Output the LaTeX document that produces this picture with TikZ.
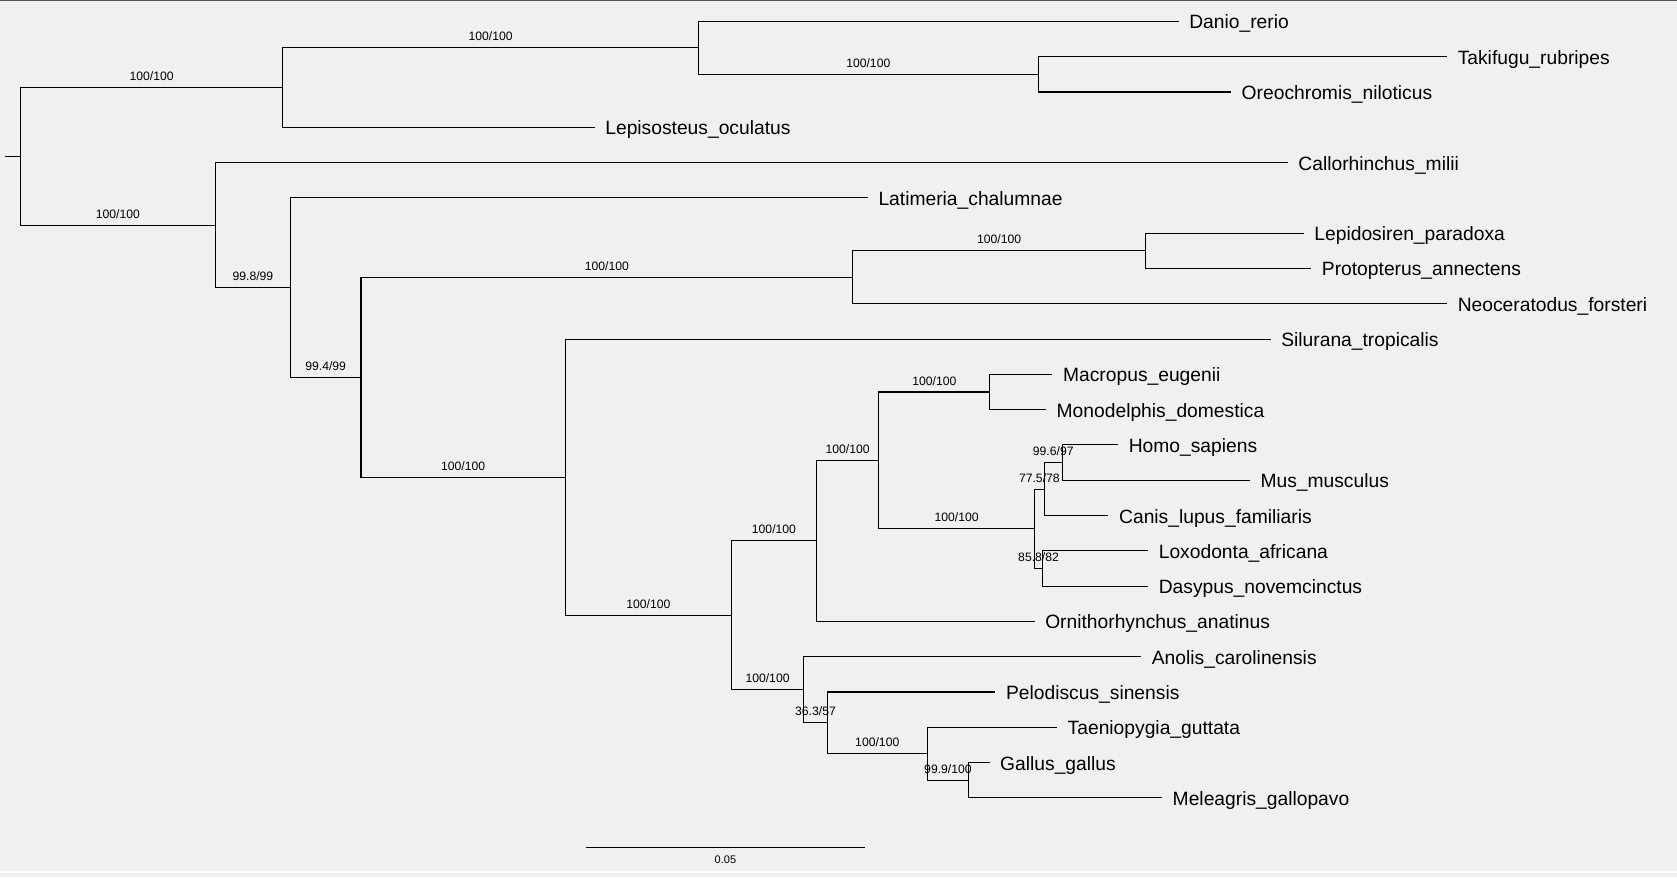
\documentclass[tikz,border=0pt]{standalone}
\usepackage{fontspec}
\setmainfont{Liberation Sans}
\definecolor{panel}{HTML}{F0F0F0}
\definecolor{frame}{HTML}{555555}

\begin{document}
\begin{tikzpicture}[x=0.5pt,y=-0.5pt,
  branch/.style={line width=0.5pt},
  taxon/.style={anchor=west,inner xsep=4.8pt,inner ysep=0pt,text height=9pt,text depth=2pt,font=\fontsize{9}{10}\selectfont},
  boot/.style={pos=0.75,above,inner xsep=0pt,inner ysep=3pt,text depth=0pt,font=\fontsize{5.7}{6}\selectfont},
  barlabel/.style={below,inner xsep=0pt,inner ysep=3.95pt,text height=3.7pt,text depth=0pt,font=\fontsize{5.15}{6}\selectfont}]

    % panel
    \fill[panel] (0,0) rectangle (1568,820);
    \fill[frame] (0,0) rectangle (1568,1);
    \fill[white] (0,814.8) rectangle (1568,815.8);
    \useasboundingbox (0,0) rectangle (1568,820);

    % taxa
    \node[taxon] (danio) at (1102,20) {Danio\_rerio};
    \node[taxon] (takifugu) at (1353,53) {Takifugu\_rubripes};
    \node[taxon] (oreo) at (1151,86) {Oreochromis\_niloticus};
    \node[taxon] (lepis) at (556,119) {Lepisosteus\_oculatus};
    \node[taxon] (callo) at (1204,152) {Callorhinchus\_milii};
    \node[taxon] (latimeria) at (811.4,185) {Latimeria\_chalumnae};
    \node[taxon] (lepidosiren) at (1219,218) {Lepidosiren\_paradoxa};
    \node[taxon] (protopterus) at (1226,251) {Protopterus\_annectens};
    \node[taxon] (neocerat) at (1353,284) {Neoceratodus\_forsteri};
    \node[taxon] (silurana) at (1188,317) {Silurana\_tropicalis};
    \node[taxon] (macropus) at (984,350) {Macropus\_eugenii};
    \node[taxon] (monodelphis) at (978,383) {Monodelphis\_domestica};
    \node[taxon] (homo) at (1045.4,416) {Homo\_sapiens};
    \node[taxon] (mus) at (1168.6,449) {Mus\_musculus};
    \node[taxon] (canis) at (1036.4,482) {Canis\_lupus\_familiaris};
    \node[taxon] (loxodonta) at (1073.5,515) {Loxodonta\_africana};
    \node[taxon] (dasypus) at (1073.5,548) {Dasypus\_novemcinctus};
    \node[taxon] (ornitho) at (967.3,581) {Ornithorhynchus\_anatinus};
    \node[taxon] (anolis) at (1067,614) {Anolis\_carolinensis};
    \node[taxon] (pelodiscus) at (930.7,647) {Pelodiscus\_sinensis};
    \node[taxon] (taeniopygia) at (988.3,680) {Taeniopygia\_guttata};
    \node[taxon] (gallus) at (925.2,713) {Gallus\_gallus};
    \node[taxon] (meleagris) at (1086.5,746) {Meleagris\_gallopavo};

    % inner nodes
    \coordinate (base) at (5,146.15);
    \coordinate (root) at (19,146.15);
    \coordinate (actino) at (264.5,81.88);
    \coordinate (teleost) at (653,44.75);
    \coordinate (acanth) at (970.7,69.5);
    \coordinate (gnatho) at (201.5,210.43);
    \coordinate (osteich) at (271.5,268.85);
    \coordinate (sarco) at (337.5,352.71);
    \coordinate (lungfish) at (797.4,259.25);
    \coordinate (lepidos) at (1071,234.5);
    \coordinate (tetra) at (528.6,446.17);
    \coordinate (amniota) at (683.8,575.33);
    \coordinate (mammal) at (763.5,505.72);
    \coordinate (theria) at (821.6,430.44);
    \coordinate (marsup) at (925.6,366.5);
    \coordinate (placent) at (967.3,494.38);
    \coordinate (boreo) at (976.3,457.25);
    \coordinate (euarch) at (993.3,432.5);
    \coordinate (atlant) at (974.8,531.5);
    \coordinate (sauria) at (751.5,644.94);
    \coordinate (archo) at (773.5,675.88);
    \coordinate (aves) at (867,704.75);
    \coordinate (galli) at (905.7,729.5);

    % branches
    \draw[branch] (base) -- (root);
    \draw[branch] (root) |- node[boot]{100/100} (actino);
    \draw[branch] (root) |- node[boot]{100/100} (gnatho);
    \draw[branch] (actino) |- node[boot]{100/100} (teleost);
    \draw[branch] (actino) |- (lepis.west);
    \draw[branch] (teleost) |- (danio.west);
    \draw[branch] (teleost) |- node[boot]{100/100} (acanth);
    \draw[branch] (acanth) |- (takifugu.west);
    \draw[branch] (acanth) |- (oreo.west);
    \draw[branch] (gnatho) |- (callo.west);
    \draw[branch] (gnatho) |- node[boot]{99.8/99} (osteich);
    \draw[branch] (osteich) |- (latimeria.west);
    \draw[branch] (osteich) |- node[boot]{99.4/99} (sarco);
    \draw[branch] (sarco) |- node[boot]{100/100} (lungfish);
    \draw[branch] (sarco) |- node[boot]{100/100} (tetra);
    \draw[branch] (lungfish) |- node[boot]{100/100} (lepidos);
    \draw[branch] (lungfish) |- (neocerat.west);
    \draw[branch] (lepidos) |- (lepidosiren.west);
    \draw[branch] (lepidos) |- (protopterus.west);
    \draw[branch] (tetra) |- (silurana.west);
    \draw[branch] (tetra) |- node[boot]{100/100} (amniota);
    \draw[branch] (amniota) |- node[boot]{100/100} (mammal);
    \draw[branch] (amniota) |- node[boot]{100/100} (sauria);
    \draw[branch] (mammal) |- node[boot]{100/100} (theria);
    \draw[branch] (mammal) |- (ornitho.west);
    \draw[branch] (theria) |- node[boot]{100/100} (marsup);
    \draw[branch] (theria) |- node[boot]{100/100} (placent);
    \draw[branch] (marsup) |- (macropus.west);
    \draw[branch] (marsup) |- (monodelphis.west);
    \draw[branch] (placent) |- node[boot]{77.5/78} (boreo);
    \draw[branch] (placent) |- node[boot]{85.8/82} (atlant);
    \draw[branch] (boreo) |- node[boot]{99.6/97} (euarch);
    \draw[branch] (boreo) |- (canis.west);
    \draw[branch] (euarch) |- (homo.west);
    \draw[branch] (euarch) |- (mus.west);
    \draw[branch] (atlant) |- (loxodonta.west);
    \draw[branch] (atlant) |- (dasypus.west);
    \draw[branch] (sauria) |- (anolis.west);
    \draw[branch] (sauria) |- node[boot]{36.3/57} (archo);
    \draw[branch] (archo) |- (pelodiscus.west);
    \draw[branch] (archo) |- node[boot]{100/100} (aves);
    \draw[branch] (aves) |- (taeniopygia.west);
    \draw[branch] (aves) |- node[boot]{99.9/100} (galli);
    \draw[branch] (galli) |- (gallus.west);
    \draw[branch] (galli) |- (meleagris.west);

    % scale bar
    \coordinate (bar0) at (547.6,792);
    \coordinate (bar1) at (809,792);
    \draw[branch] (bar0) -- node[barlabel]{0.05} (bar1);
\end{tikzpicture}
\end{document}
